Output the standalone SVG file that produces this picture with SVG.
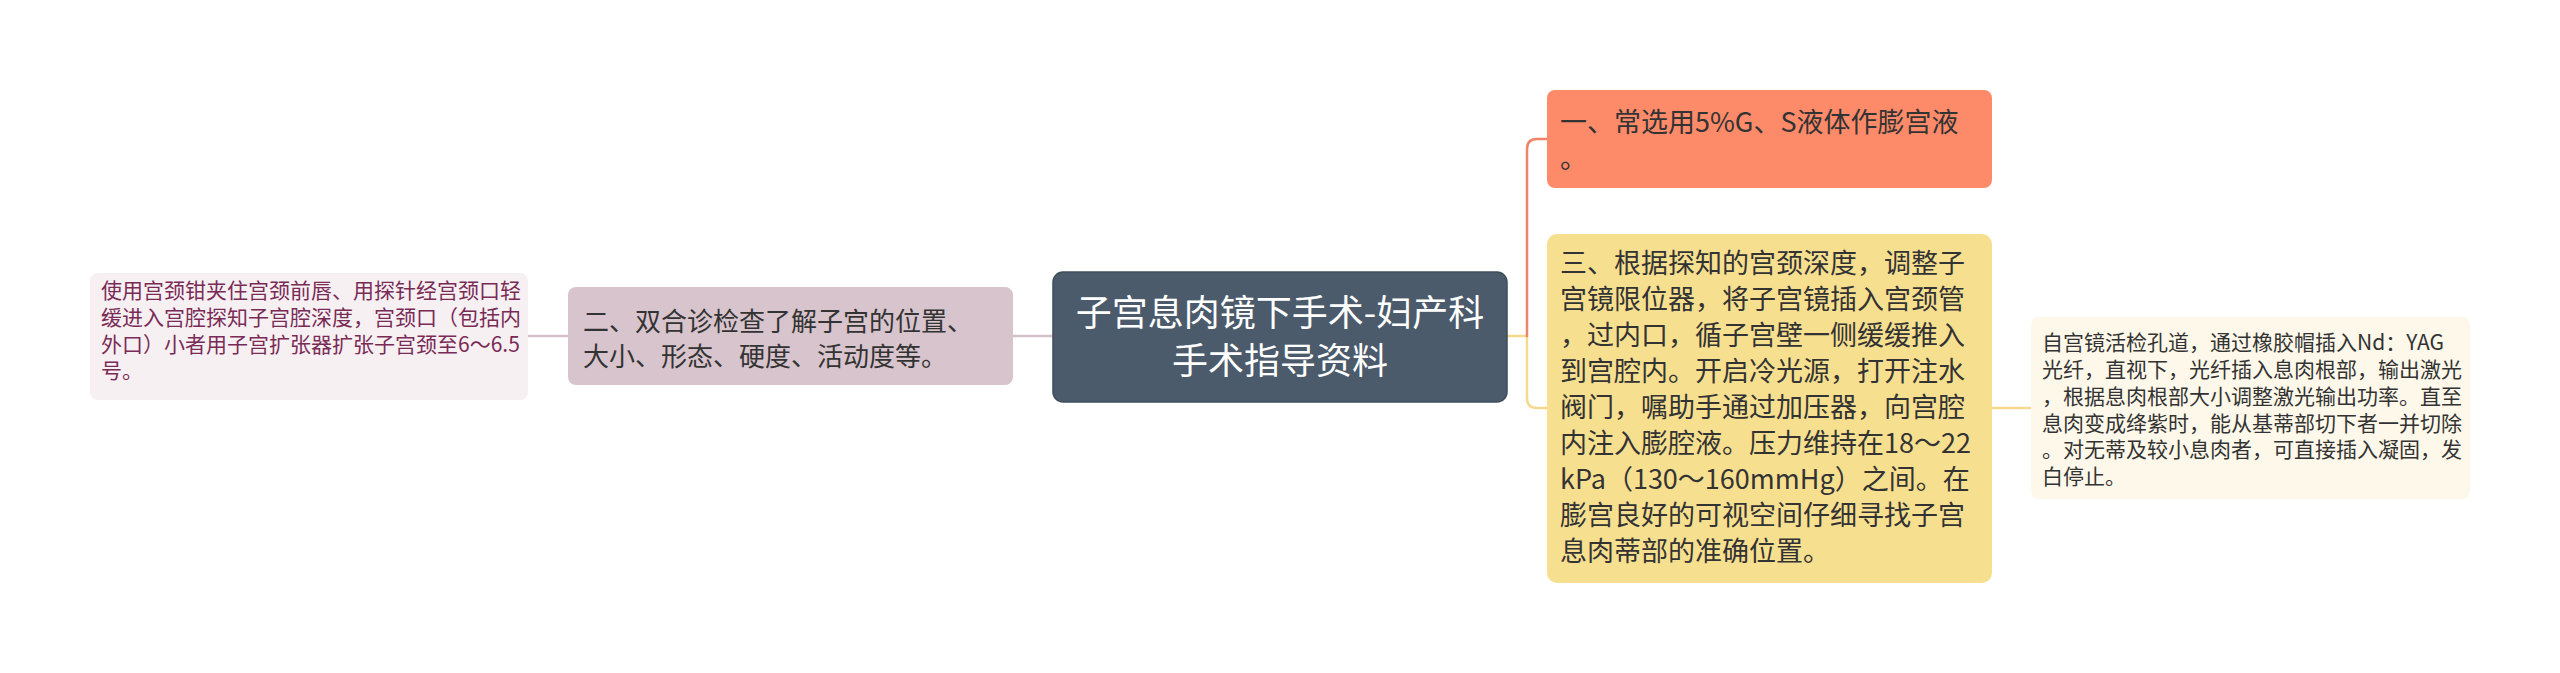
<svg xmlns="http://www.w3.org/2000/svg" width="2560" height="673" viewBox="0 0 2560 673">
<style>
text{font-family:"Noto Sans CJK SC","Noto Sans",sans-serif;}
.c{fill:none;stroke-width:2.5;stroke-linecap:round;stroke-linejoin:round;}
.t26{font-size:26px;fill:#333333;}
.t27{font-size:27px;fill:#333333;}
.t21{font-size:21px;fill:#333333;}
.tl{font-size:21px;fill:#7a2b55;}
.tc{font-size:36px;fill:#ffffff;text-anchor:middle;}
</style>
<rect width="2560" height="673" fill="#ffffff"/>
<g id="connectors">
<path class="c" stroke="#d3c0c9" d="M528 336 H568"/>
<path class="c" stroke="#d3c0c9" d="M1013 336 H1053"/>
<path class="c" stroke="#f5d98c" d="M1507 336 H1527 V398 Q1527 408 1537 408 H1547"/>
<path class="c" stroke="#f0846a" d="M1527 336 V149 Q1527 139 1537 139 H1547"/>
<path class="c" stroke="#f5d98c" d="M1992 408 H2031"/>
</g>
<g id="center">
<rect x="1053" y="272" width="454" height="130" rx="10" fill="#4b5b6b" stroke="#3f4d5b" stroke-width="1.5"/>
<text class="tc" x="1280" y="326">子宫息肉镜下手术-妇产科</text>
<text class="tc" x="1280" y="374">手术指导资料</text>
</g>
<g id="node-2">
<rect x="568" y="287" width="445" height="98" rx="8" fill="#d8c4cd"/>
<text class="t26" x="583" y="331">二、双合诊检查了解子宫的位置、</text>
<text class="t26" x="583" y="366">大小、形态、硬度、活动度等。</text>
</g>
<g id="leaf-2">
<rect x="90" y="273" width="438" height="127" rx="8" fill="#f6f0f3"/>
<text class="tl" x="101" y="298">使用宫颈钳夹住宫颈前唇、用探针经宫颈口轻</text>
<text class="tl" x="101" y="325">缓进入宫腔探知子宫腔深度，宫颈口（包括内</text>
<text class="tl" x="101" y="352">外口）小者用子宫扩张器扩张子宫颈至6～6.5</text>
<text class="tl" x="101" y="378">号。</text>
</g>
<g id="node-1">
<rect x="1547" y="90" width="445" height="98" rx="8" fill="#fd8a69"/>
<text class="t27" x="1560" y="132">一、常选用5%G、S液体作膨宫液</text>
<text class="t27" x="1560" y="168">。</text>
</g>
<g id="node-3">
<rect x="1547" y="234" width="445" height="349" rx="10" fill="#f7df90"/>
<text class="t27" x="1560" y="273">三、根据探知的宫颈深度，调整子</text>
<text class="t27" x="1560" y="309">宫镜限位器，将子宫镜插入宫颈管</text>
<text class="t27" x="1560" y="345">，过内口，循子宫壁一侧缓缓推入</text>
<text class="t27" x="1560" y="381">到宫腔内。开启冷光源，打开注水</text>
<text class="t27" x="1560" y="417">阀门，嘱助手通过加压器，向宫腔</text>
<text class="t27" x="1560" y="453">内注入膨腔液。压力维持在18～22</text>
<text class="t27" x="1560" y="489">kPa（130～160mmHg）之间。在</text>
<text class="t27" x="1560" y="525">膨宫良好的可视空间仔细寻找子宫</text>
<text class="t27" x="1560" y="561">息肉蒂部的准确位置。</text>
</g>
<g id="leaf-3">
<rect x="2031" y="317" width="439" height="182" rx="8" fill="#fdf8e9"/>
<text class="t21" x="2042" y="350">自宫镜活检孔道，通过橡胶帽插入Nd：YAG</text>
<text class="t21" x="2042" y="377">光纤，直视下，光纤插入息肉根部，输出激光</text>
<text class="t21" x="2042" y="404">，根据息肉根部大小调整激光输出功率。直至</text>
<text class="t21" x="2042" y="431">息肉变成绛紫时，能从基蒂部切下者一并切除</text>
<text class="t21" x="2042" y="457">。对无蒂及较小息肉者，可直接插入凝固，发</text>
<text class="t21" x="2042" y="484">白停止。</text>
</g>
</svg>
